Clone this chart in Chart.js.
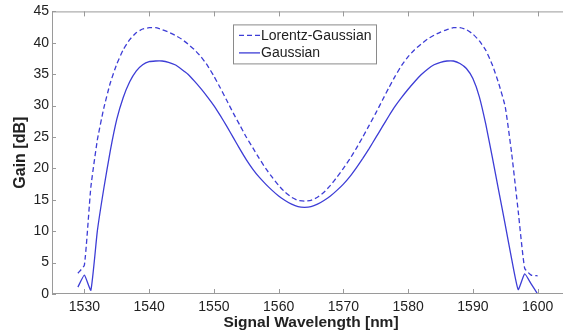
<!DOCTYPE html>
<html>
<head>
<meta charset="utf-8">
<title>Gain spectrum</title>
<script src="https://cdn.jsdelivr.net/npm/chart.js@4.4.1/dist/chart.umd.min.js"></script>
<style>
    html, body { margin: 0; padding: 0; background: #fff; overflow: hidden; }
    #wrap { width: 570px; height: 331px; }
</style>
</head>
<body>
<div id="wrap"><canvas id="gain" width="570" height="331"></canvas></div>
<script>

// signal wavelength [nm]
const wavelength = [
    1529, 1530, 1531, 1532, 1533, 1534, 1535, 1536, 1537, 1538, 1539, 1540,
    1541, 1542, 1543, 1544, 1545, 1546, 1547, 1548, 1549, 1550, 1551, 1552,
    1553, 1554, 1555, 1556, 1557, 1558, 1559, 1560, 1561, 1562, 1563, 1564,
    1565, 1566, 1567, 1568, 1569, 1570, 1571, 1572, 1573, 1574, 1575, 1576,
    1577, 1578, 1579, 1580, 1581, 1582, 1583, 1584, 1585, 1586, 1587, 1588,
    1589, 1590, 1591, 1592, 1593, 1594, 1595, 1596, 1597, 1598, 1599, 1600
];

// gain [dB], Lorentz-Gaussian model (dashed)
const gainLorentzGaussian = [
    3.3, 4.6, 17.0, 24.5, 29.6, 33.6, 36.6, 38.9, 40.5, 41.6, 42.2, 42.4,
    42.4, 42.1, 41.7, 41.2, 40.6, 39.8, 38.9, 37.8, 36.4, 34.7, 32.8, 30.8,
    28.8, 26.9, 25.0, 23.3, 21.6, 20.0, 18.6, 17.3, 16.2, 15.4, 14.9, 14.8,
    14.9, 15.4, 16.2, 17.3, 18.6, 20.0, 21.5, 23.2, 25.0, 26.9, 28.8, 30.8,
    32.8, 34.7, 36.4, 37.8, 38.9, 39.8, 40.6, 41.2, 41.7, 42.1, 42.4, 42.4,
    42.1, 41.4, 40.3, 38.8, 36.5, 33.5, 29.8, 22.3, 13.2, 4.1, 3.0, 2.9
];

// gain [dB], Gaussian model (solid)
const gainGaussian = [
    1.1, 3.0, 0.6, 10.0, 16.8, 22.8, 27.8, 31.3, 33.8, 35.5, 36.5, 37.0,
    37.1, 37.1, 36.9, 36.5, 35.8, 35.0, 33.9, 32.7, 31.4, 30.0, 28.4, 26.7,
    24.9, 23.1, 21.4, 19.9, 18.6, 17.5, 16.5, 15.6, 14.9, 14.3, 13.9, 13.8,
    13.9, 14.3, 14.9, 15.6, 16.5, 17.5, 18.7, 20.1, 21.6, 23.2, 24.9, 26.6,
    28.3, 29.9, 31.3, 32.6, 33.8, 34.9, 35.8, 36.5, 36.9, 37.1, 37.1, 36.7,
    35.9, 34.3, 31.4, 27.0, 21.8, 16.4, 11.0, 5.5, 0.7, 3.2, 1.6, 0.0
];

const xTicks = [1530, 1540, 1550, 1560, 1570, 1580, 1590, 1600];
const yTicks = [0, 5, 10, 15, 20, 25, 30, 35, 40, 45];

const lineBlue = '#3d3dd6';
const frameGrey = '#9a9a9a';
const textColor = '#222';
const fontName = "'Liberation Sans', Arial, sans-serif";

function toPoints(xs, ys) {
    return xs.map((x, i) => ({ x: x, y: ys[i] }));
}

// matlab like box: axes frame, inward ticks and a legend inside the plot
const matlabBox = {
    id: 'matlabBox',
    afterDraw(chart) {
        const ctx = chart.ctx;
        const a = chart.chartArea;
        const xs = chart.scales.x;
        const ys = chart.scales.y;

        ctx.save();
        ctx.strokeStyle = frameGrey;
        ctx.lineWidth = 1;
        ctx.strokeRect(a.left + 0.5, a.top + 0.5, a.right - a.left - 1, a.bottom - a.top - 1);

        ctx.beginPath();
        xTicks.forEach(v => {
            const px = Math.round(xs.getPixelForValue(v)) + 0.5;
            ctx.moveTo(px, a.bottom); ctx.lineTo(px, a.bottom - 5);
            ctx.moveTo(px, a.top); ctx.lineTo(px, a.top + 5);
        });
        yTicks.forEach(v => {
            const py = Math.round(ys.getPixelForValue(v)) + 0.5;
            ctx.moveTo(a.left, py); ctx.lineTo(a.left + 4, py);
        });
        ctx.stroke();

        // legend
        const bx = a.left + 181, by = a.top + 13, bw = 143, bh = 39;
        ctx.fillStyle = '#fff';
        ctx.fillRect(bx, by, bw, bh);
        ctx.strokeStyle = '#8a8a8a';
        ctx.strokeRect(bx + 0.5, by + 0.5, bw, bh);

        ctx.font = '14px ' + fontName;
        ctx.textBaseline = 'middle';
        ctx.textAlign = 'left';
        chart.data.datasets.forEach((ds, i) => {
            const ly = by + 11 + i * 17.5;
            ctx.strokeStyle = ds.borderColor;
            ctx.lineWidth = ds.borderWidth;
            ctx.setLineDash(ds.borderDash || []);
            ctx.beginPath();
            ctx.moveTo(bx + 6, ly);
            ctx.lineTo(bx + 27, ly);
            ctx.stroke();
            ctx.setLineDash([]);
            ctx.fillStyle = textColor;
            ctx.fillText(ds.label, bx + 28, ly + 0.5);
        });
        ctx.restore();
    }
};

const ctx = document.getElementById('gain').getContext('2d');

new Chart(ctx, {
    type: 'line',
    data: {
        datasets: [
            {
                label: 'Lorentz-Gaussian',
                data: toPoints(wavelength, gainLorentzGaussian),
                borderColor: lineBlue,
                borderWidth: 1.3,
                borderDash: [5, 3],
                pointRadius: 0,
                tension: 0.15,
                fill: false
            },
            {
                label: 'Gaussian',
                data: toPoints(wavelength, gainGaussian),
                borderColor: lineBlue,
                borderWidth: 1.3,
                pointRadius: 0,
                tension: 0.15,
                fill: false
            }
        ]
    },
    options: {
        responsive: false,
        animation: false,
        devicePixelRatio: 1,
        layout: {
            padding: { left: 0, right: 0, top: 10, bottom: 0 }
        },
        plugins: {
            legend: { display: false },
            tooltip: { enabled: false }
        },
        scales: {
            x: {
                type: 'linear',
                min: 1525,
                max: 1605,
                afterBuildTicks: s => { s.ticks = xTicks.map(v => ({ value: v })); },
                afterFit: s => { s.height = 37; },
                grid: { display: false, drawTicks: false },
                border: { display: false },
                ticks: {
                    color: textColor,
                    font: { family: fontName, size: 14 },
                    padding: 5,
                    maxRotation: 0,
                    autoSkip: false,
                    callback: v => String(v)
                },
                title: {
                    display: true,
                    text: 'Signal Wavelength [nm]',
                    color: textColor,
                    font: { family: fontName, size: 15.5, weight: 'bold' },
                    padding: { top: 0, bottom: -1 }
                }
            },
            y: {
                min: 0,
                max: 45,
                afterBuildTicks: s => { s.ticks = yTicks.map(v => ({ value: v })); },
                afterFit: s => { s.width = 52; },
                grid: { display: false, drawTicks: false },
                border: { display: false },
                ticks: {
                    color: textColor,
                    font: { family: fontName, size: 14 },
                    padding: 3,
                    callback: v => String(v)
                },
                title: {
                    display: true,
                    text: 'Gain [dB]',
                    color: textColor,
                    font: { family: fontName, size: 16, weight: 'bold' },
                    padding: { top: 11, bottom: 0 }
                }
            }
        }
    },
    plugins: [matlabBox]
});
</script>
</body>
</html>
